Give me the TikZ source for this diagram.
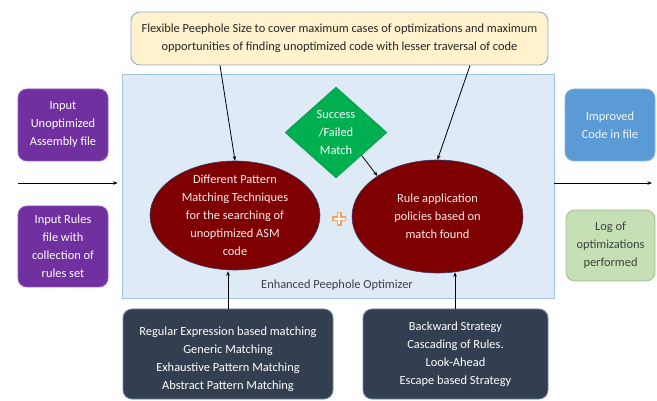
\documentclass[tikz,border=0pt]{standalone}
\usepackage{fontspec}
\setmainfont{Carlito}
\usetikzlibrary{shapes.geometric,arrows.meta,calc}
\definecolor{cpurple}{HTML}{7030A0}
\definecolor{cpurpleb}{HTML}{8F5BBF}
\definecolor{cblue}{HTML}{5B9BD5}
\definecolor{cblueb}{HTML}{8DB6E0}
\definecolor{cgreenf}{HTML}{C5E0B4}
\definecolor{cgreenb}{HTML}{9DBF8A}
\definecolor{cpanel}{HTML}{DEEBF7}
\definecolor{cpanelb}{HTML}{9DC3E6}
\definecolor{cyellow}{HTML}{FFF2CC}
\definecolor{cyellowb}{HTML}{8FA6C0}
\definecolor{cred}{HTML}{7F0000}
\definecolor{credb}{HTML}{2F3F6F}
\definecolor{cdia}{HTML}{00B050}
\definecolor{cdark}{HTML}{333F50}
\definecolor{cdarkb}{HTML}{6F86A8}
\definecolor{corange}{HTML}{F4A460}
\definecolor{ctext}{HTML}{404040}
\tikzset{
  txt/.style={font=\fontsize{12.4}{18}\selectfont, align=center, inner sep=0pt},
  rbox/.style={txt, rounded corners=9pt, line width=0.8pt, draw},
  inbox/.style={rbox, fill=cpurple, draw=cpurpleb, text=white, minimum width=90pt},
  outbox/.style={rbox, fill=cblue, draw=cblueb, text=white!92!cblue, minimum width=90pt, minimum height=72pt},
  logbox/.style={rbox, fill=cgreenf, draw=cgreenb, text=ctext, minimum width=89pt, minimum height=71pt},
  darkbox/.style={rbox, fill=cdark, draw=cdarkb, minimum height=90pt},
  darktxt/.style={txt, text=white},
  oval/.style={ellipse, fill=cred, draw=credb, line width=0.6pt, inner sep=0pt},
  ovaltxt/.style={txt, text=white!92!red},
  arr/.style={draw=black, line width=0.8pt, -{Stealth[length=4.5pt,width=3.5pt]}},
}
\begin{document}
\begin{tikzpicture}[x=1pt,y=-1pt]
\useasboundingbox (0,0) rectangle (657,401);
\node[draw=cpanelb, fill=cpanel, line width=0.8pt, minimum width=432pt, minimum height=224pt, inner sep=0pt] (panel) at (338,186) {};
\node[txt, text=ctext] (lbl) at (337,285) {Enhanced Peephole Optimizer};
\node[rbox, fill=cyellow, draw=cyellowb, text=black!85, minimum width=417pt, minimum height=53pt] (top) at (339.5,38.5)
  {Flexible Peephole Size to cover maximum cases of optimizations and maximum\\opportunities of finding unoptimized code with lesser traversal of code};
\node[inbox, minimum height=72pt] (in1) at (63,125) {Input\\Unoptimized\\Assembly file};
\node[inbox, minimum height=81pt] (in2) at (63,246.5) {Input Rules\\file with\\collection of\\rules set};
\node[outbox] (out1) at (610,125) {Improved\\Code in file};
\node[logbox] (out2) at (610.5,245.5) {Log of\\optimizations\\performed};
\node[oval, minimum width=170pt, minimum height=109pt] (le) at (235,215.5) {};
\node[ovaltxt] (leT) at (le.center)
  {Different Pattern\\Matching Techniques\\for the searching of\\unoptimized ASM\\code};
\node[oval, minimum width=171pt, minimum height=113pt] (re) at (437.5,216.5) {};
\node[ovaltxt] (reT) at (re.center)
  {Rule application\\policies based on\\match found};
\node[txt, diamond, fill=cdia, draw=cdia!80!black, line width=0.4pt, text=white, minimum width=102pt, minimum height=91pt] (dia) at (336,132.5)
  {Success\\/Failed\\Match};
\node[darkbox, minimum width=210pt] (bl) at (228,354) {};
\node[darktxt] (blT) at (228,359.5)
  {Regular Expression based matching\\Generic Matching\\Exhaustive Pattern Matching\\Abstract Pattern Matching};
\node[darkbox, minimum width=185pt] (br) at (455.5,354) {};
\node[darktxt] (brT) at (455.5,354)
  {Backward Strategy\\Cascading of Rules.\\Look-Ahead\\Escape based Strategy};
% plus sign
\coordinate (plus) at (339,219);
\draw[line width=5pt, corange] ($(plus)+(-7,0)$) -- ($(plus)+(7,0)$) ($(plus)+(0,-7)$) -- ($(plus)+(0,7)$);
\draw[line width=2pt, white] ($(plus)+(-5.5,0)$) -- ($(plus)+(5.5,0)$) ($(plus)+(0,-5.5)$) -- ($(plus)+(0,5.5)$);
% side arrows
\coordinate (lin) at (18,183);
\coordinate (rout) at (652,183);
\draw[arr] (lin) -- ($(lin -| panel.west)+(-4,0)$);
\draw[arr] (lin -| panel.east) -- (rout);
% top arrows
\draw[arr] (top.south -| 220,0) -- (le.north);
\draw[arr] (top.south -| 470,0) -- (re.north);
% diamond to right ellipse
\draw[arr] (dia.south east) -- (re.146);
% bottom arrows
\draw[arr] (bl.north -| 228,0) -- ($(le.south -| 228,0)+(0,1)$);
\draw[arr] (br.north -| 455,0) -- ($(re.south -| 455,0)+(0,-1)$);
\end{tikzpicture}
\end{document}
